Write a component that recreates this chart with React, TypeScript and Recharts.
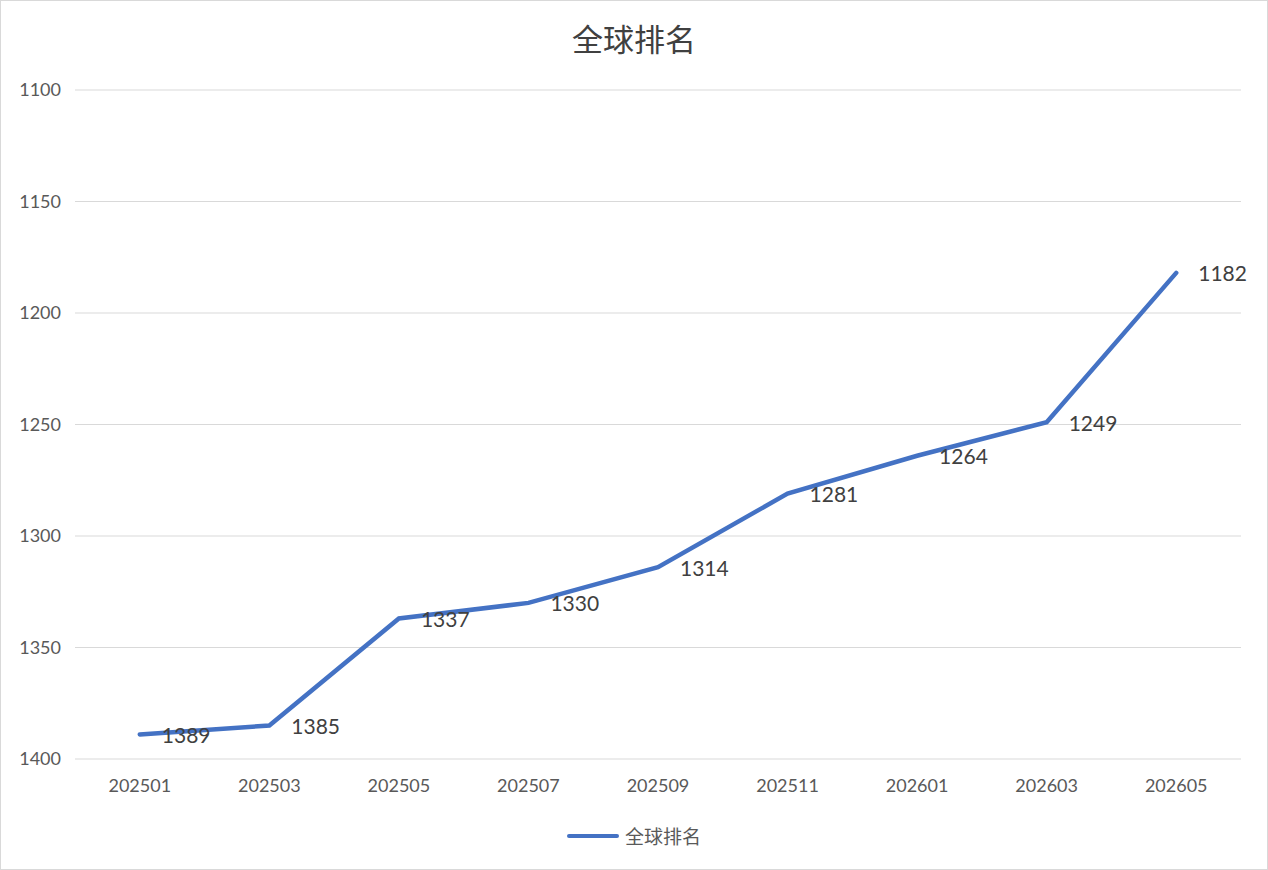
import { ComposedChart, Line, XAxis, YAxis, CartesianGrid, LabelList } from 'recharts';

const months = ['202501', '202503', '202505', '202507', '202509', '202511', '202601', '202603', '202605'];
const ranks = [1389, 1385, 1337, 1330, 1314, 1281, 1264, 1249, 1182];
const rankTicks = [1100, 1150, 1200, 1250, 1300, 1350, 1400];
const seriesName = '全球排名';

const chartData = months.map((m, i) => ({ month: m, rank: ranks[i] }));

const numFont = "Lato, 'Noto Sans', sans-serif";
const cjkFont = "'Noto Sans CJK SC', 'Noto Sans', sans-serif";

function RankLabel(props: any) {
  const { x, y, value } = props;
  return (
    <text x={x + 22} y={y} dominantBaseline="central" fontSize={21} fill="#404040" fontFamily={numFont}>
      {value}
    </text>
  );
}

export default function App() {
  return (
    <div
      style={{
        position: 'absolute',
        left: 0,
        top: 0,
        width: 1268,
        height: 870,
        border: '1px solid #d9d9d9',
        boxSizing: 'border-box',
        background: '#fff',
      }}
    >
      <div style={{ position: 'absolute', left: -1, top: -1, width: 1268, height: 870 }}>
        <div
          style={{
            position: 'absolute',
            top: 18,
            left: 0,
            width: 1268,
            height: 40,
            lineHeight: '40px',
            textAlign: 'center',
            fontFamily: cjkFont,
            fontSize: 31,
            color: '#404040',
          }}
        >
          {seriesName}
        </div>
        <ComposedChart width={1268} height={870} data={chartData} margin={{ top: 90, right: 27, bottom: 81, left: 0 }}>
          <CartesianGrid vertical={false} stroke="#d9d9d9" strokeWidth={1.2} />
          <XAxis
            dataKey="month"
            scale="band"
            height={30}
            axisLine={false}
            tickLine={false}
            tickSize={0}
            tickMargin={20}
            tick={{ fontSize: 18, fill: '#595959', fontFamily: numFont }}
            interval={0}
          />
          <YAxis
            reversed
            domain={[1100, 1400]}
            ticks={rankTicks}
            width={75}
            axisLine={false}
            tickLine={false}
            tickSize={0}
            tickMargin={14}
            tick={{ fontSize: 18, fill: '#595959', fontFamily: numFont }}
          />
          <Line
            type="linear"
            dataKey="rank"
            name={seriesName}
            stroke="#4472C4"
            strokeWidth={4.5}
            strokeLinecap="round"
            dot={false}
            activeDot={false}
            isAnimationActive={false}
          >
            <LabelList dataKey="rank" content={RankLabel} />
          </Line>
        </ComposedChart>
        <div
          style={{
            position: 'absolute',
            top: 822,
            left: 0,
            width: 1268,
            display: 'flex',
            justifyContent: 'center',
            alignItems: 'center',
            gap: 6,
          }}
        >
          <svg width={52} height={8}>
            <line x1={2} y1={4} x2={50} y2={4} stroke="#4472C4" strokeWidth={4} strokeLinecap="round" />
          </svg>
          <span style={{ fontFamily: cjkFont, fontSize: 19, color: '#595959' }}>{seriesName}</span>
        </div>
      </div>
    </div>
  );
}
